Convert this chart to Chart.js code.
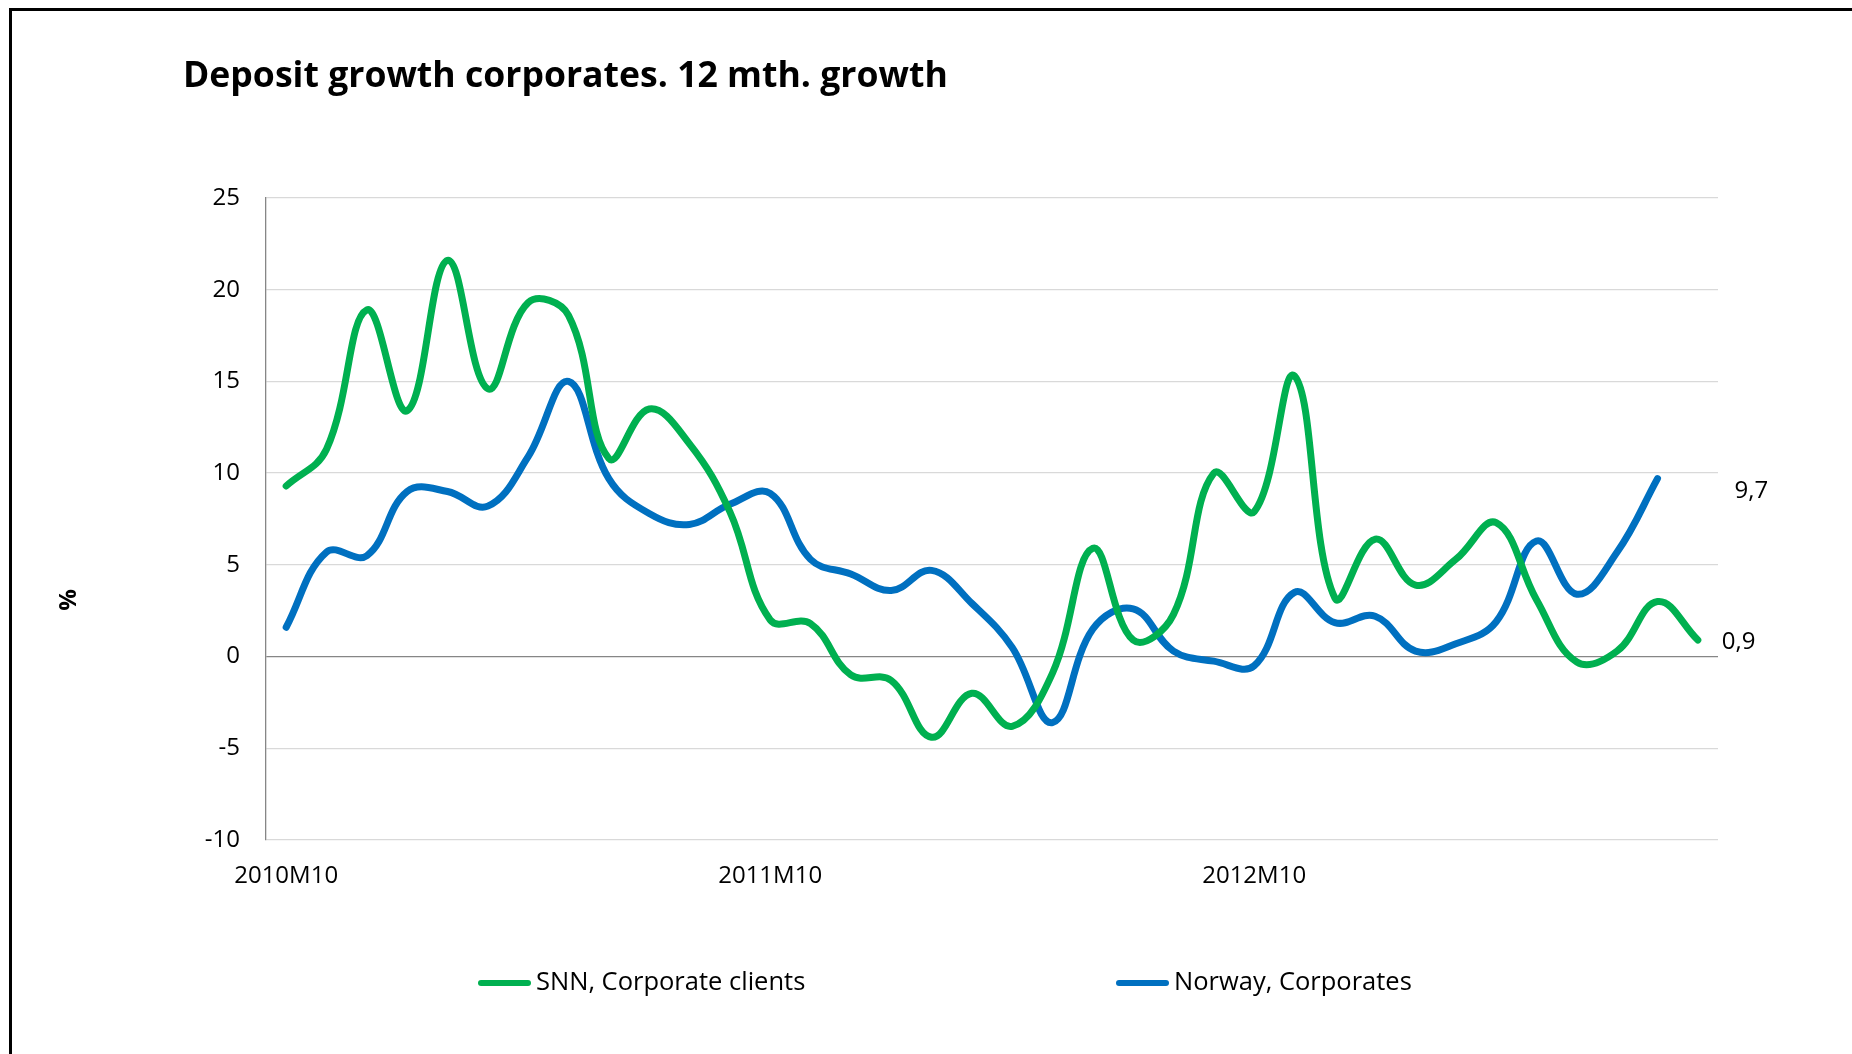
<!DOCTYPE html>
<html>
<head>
<meta charset="utf-8">
<title>Deposit growth corporates</title>
<script src="https://cdn.jsdelivr.net/npm/chart.js@4.4.1/dist/chart.umd.min.js"></script>
<style>
  html, body { margin: 0; padding: 0; background: #fff; overflow: hidden; }
  #wrap { position: relative; width: 1852px; height: 1054px; }
  #frame { position: absolute; left: 9px; top: 8px; width: 1900px; height: 1100px; border: 3px solid #000; pointer-events: none; }
</style>
</head>
<body>
<div id="wrap">
  <canvas id="depositChart" width="1852" height="1054"></canvas>
  <div id="frame"></div>
</div>
<script>
// months, 2010M10 .. 2013M09
const months = [
  "2010M10", "2010M11", "2010M12", "2011M01", "2011M02", "2011M03",
  "2011M04", "2011M05", "2011M06", "2011M07", "2011M08", "2011M09",
  "2011M10", "2011M11", "2011M12", "2012M01", "2012M02", "2012M03",
  "2012M04", "2012M05", "2012M06", "2012M07", "2012M08", "2012M09",
  "2012M10", "2012M11", "2012M12", "2013M01", "2013M02", "2013M03",
  "2013M04", "2013M05", "2013M06", "2013M07", "2013M08", "2013M09"
];
const xTickLabels = ["2010M10", "2011M10", "2012M10"];

// 12 month growth, %
const snnCorporate = [
  9.3, 11.3, 18.9, 13.4, 21.6, 14.6, 19.3, 18.6, 10.8, 13.5, 11.6, 7.9,
  2.0, 1.8, -1.0, -1.3, -4.4, -2.0, -3.8, -0.9, 5.9, 0.9, 2.3, 10.0,
  7.9, 15.3, 3.2, 6.4, 3.9, 5.3, 7.3, 3.1, -0.3, 0.3, 3.0, 0.9
];
const norwayCorporates = [
  1.6, 5.7, 5.5, 9.0, 9.0, 8.2, 10.9, 15.0, 9.7, 7.8, 7.2, 8.3,
  8.9, 5.3, 4.5, 3.6, 4.7, 2.9, 0.5, -3.6, 1.5, 2.6, 0.3, -0.25,
  -0.5, 3.5, 1.85, 2.2, 0.3, 0.7, 1.9, 6.3, 3.4, 5.7, 9.7
];

const yMin = -10;
const yMax = 25;
const yStep = 5;

const FONT = "'Open Sans', sans-serif";
Chart.defaults.font.family = FONT;
Chart.defaults.color = "#000";

// title left aligned above the plot, plus the rotated unit label
const chartTitle = {
  id: "chartTitle",
  afterDraw(chart) {
    const c = chart.ctx;
    c.save();
    c.font = "bold 35.6px " + FONT;
    c.fillStyle = "#000";
    c.textAlign = "left";
    c.textBaseline = "middle";
    c.fillText("Deposit growth corporates. 12 mth. growth", 183, 77);

    c.translate(69, 600);
    c.rotate(-Math.PI / 2);
    c.textAlign = "center";
    c.font = "bold 24px " + FONT;
    c.fillText("%", 0, 0);
    c.restore();
  }
};

// value of the last point of each series, to the right of the line
const endLabels = {
  id: "endLabels",
  afterDatasetsDraw(chart) {
    const c = chart.ctx;
    const shift = [{ dx: 24, dy: 2 }, { dx: 77, dy: 13 }];
    c.save();
    c.font = "24px " + FONT;
    c.fillStyle = "#000";
    c.textAlign = "left";
    c.textBaseline = "middle";
    chart.data.datasets.forEach((ds, i) => {
      const meta = chart.getDatasetMeta(i);
      const last = meta.data[ds.data.length - 1];
      const txt = ds.data[ds.data.length - 1].toFixed(1).replace(".", ",");
      c.fillText(txt, last.x + shift[i].dx, last.y + shift[i].dy);
    });
    c.restore();
  }
};

// legend with wide spacing between the two entries
const lineLegend = {
  id: "lineLegend",
  afterDraw(chart) {
    const c = chart.ctx;
    const spots = [478, 1116];
    const y = 983;
    c.save();
    c.font = "25.5px " + FONT;
    c.textAlign = "left";
    c.textBaseline = "middle";
    chart.data.datasets.forEach((ds, i) => {
      const x0 = spots[i];
      c.strokeStyle = ds.borderColor;
      c.lineWidth = 6;
      c.lineCap = "round";
      c.beginPath();
      c.moveTo(x0 + 3, y);
      c.lineTo(x0 + 50, y);
      c.stroke();
      c.fillStyle = "#000";
      c.fillText(ds.label, x0 + 58, y);
    });
    c.restore();
  }
};

new Chart(document.getElementById("depositChart"), {
  type: "line",
  data: {
    labels: months,
    datasets: [
      {
        label: "SNN, Corporate clients",
        data: snnCorporate,
        borderColor: "#00B050",
        borderWidth: 7,
        tension: 0.4,
        pointRadius: 0,
        borderCapStyle: "round",
        borderJoinStyle: "round",
        fill: false
      },
      {
        label: "Norway, Corporates",
        data: norwayCorporates,
        borderColor: "#0070C0",
        borderWidth: 7,
        tension: 0.4,
        pointRadius: 0,
        borderCapStyle: "round",
        borderJoinStyle: "round",
        fill: false
      }
    ]
  },
  options: {
    responsive: false,
    animation: false,
    layout: { padding: { top: 198, right: 134, bottom: 154, left: 0 } },
    plugins: {
      legend: { display: false },
      tooltip: { enabled: false },
      title: { display: false }
    },
    scales: {
      x: {
        offset: true,
        grid: { display: false },
        border: { display: false },
        ticks: {
          autoSkip: false,
          maxRotation: 0,
          minRotation: 0,
          padding: 14,
          color: "#000",
          font: { size: 24 },
          callback: function(value) {
            const lbl = this.getLabelForValue(value);
            return xTickLabels.includes(lbl) ? lbl : "";
          }
        },
        afterFit: (scale) => { scale.height = 60; }
      },
      y: {
        min: yMin,
        max: yMax,
        ticks: { stepSize: yStep, padding: 26, color: "#000", font: { size: 24 } },
        grid: {
          drawTicks: false,
          lineWidth: 1.3,
          color: (ctx) => (ctx.tick && ctx.tick.value === 0 ? "#868686" : "#d9d9d9")
        },
        border: { display: true, color: "#868686", width: 1.3 },
        afterFit: (scale) => { scale.width = 266; }
      }
    }
  },
  plugins: [chartTitle, endLabels, lineLegend]
});
</script>
</body>
</html>
